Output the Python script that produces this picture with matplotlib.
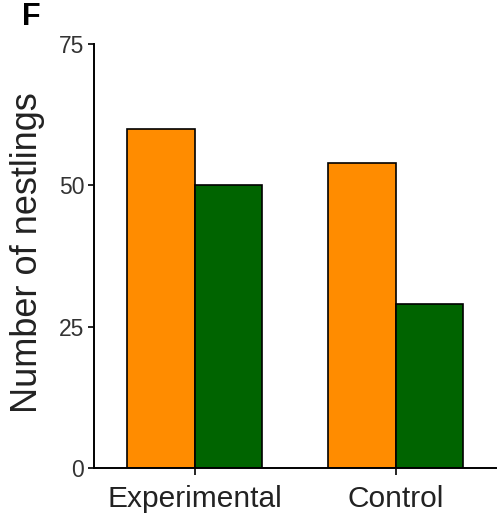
import matplotlib
matplotlib.use("Agg")
import numpy as np
import matplotlib.pyplot as plt

# Data
groups = ["Experimental", "Control"]
orange_vals = [60, 54]
green_vals = [50, 29]
y_ticks = [0, 25, 50, 75]

plt.rcParams['font.family'] = ['Liberation Sans', 'DejaVu Sans']

fig = plt.figure(figsize=(4.99, 5.29), dpi=100)
ax = fig.add_axes([0.1884, 0.1153, 0.8056, 0.8015])

x = np.arange(len(groups))
w = 0.335
ax.bar(x - w / 2, orange_vals, w, color='#ff8c00', edgecolor='black', linewidth=1.2)
ax.bar(x + w / 2, green_vals, w, color='#006400', edgecolor='black', linewidth=1.2)

ax.set_xlim(-0.5, 1.5)
ax.set_ylim(0, 75)
ax.set_yticks(y_ticks)
ax.set_xticks(x)
ax.set_xticklabels(groups)

for s in ['top', 'right']:
    ax.spines[s].set_visible(False)
for s in ['left', 'bottom']:
    ax.spines[s].set_linewidth(1.4)

ax.tick_params(axis='y', length=4, width=1.2, pad=3, labelsize=16.5, labelcolor='#333333')
ax.tick_params(axis='x', length=5, width=1.2, pad=7, labelsize=21.5, labelcolor='#222222')

fig.text(28 / 499, 0.522, "Number of nestlings", rotation=90, ha='center', va='center',
         fontsize=26, color='#222222')
fig.text(22 / 499, 1 - 2 / 529, "F", fontsize=22, fontweight='bold', ha='left', va='top')

fig.savefig("out.png", dpi=100)
